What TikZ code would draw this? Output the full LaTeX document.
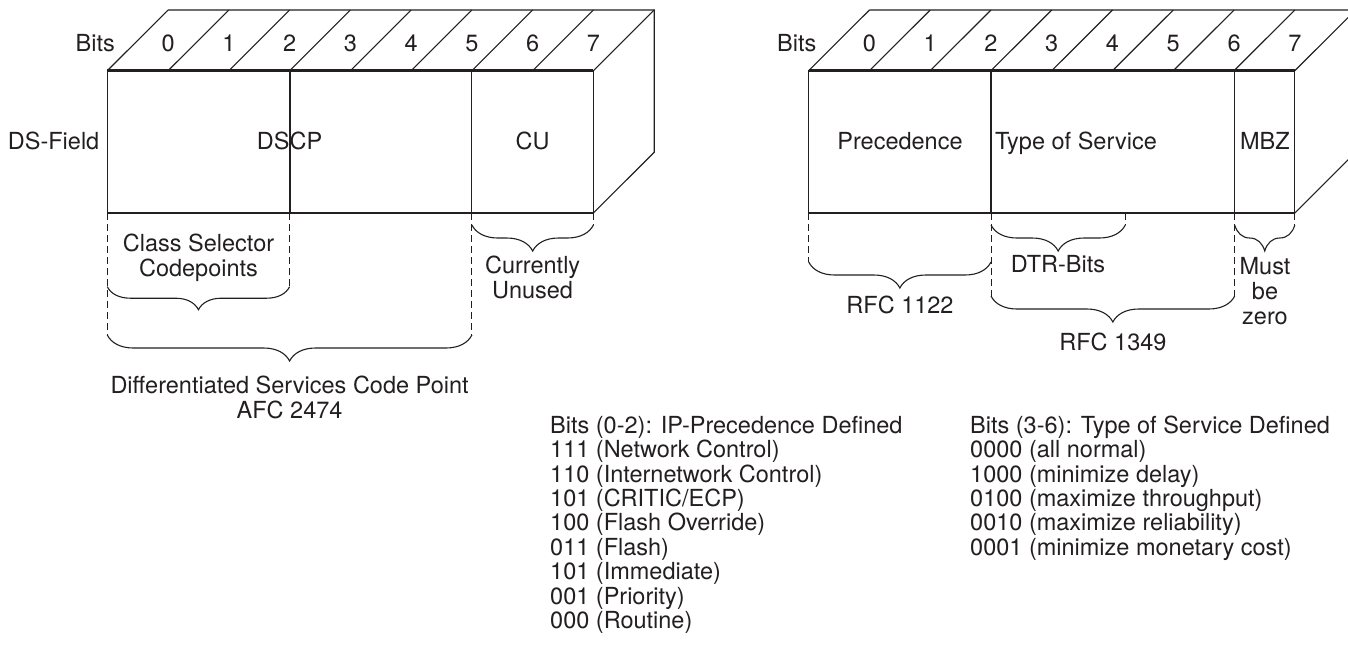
\documentclass[tikz,border=0pt]{standalone}
\usepackage{fontspec}
\setmainfont{TeX Gyre Heros}
\usetikzlibrary{decorations.pathreplacing}

\definecolor{ink}{HTML}{231F20}

\tikzset{
  lbl/.style={font=\fontsize{23.5}{25}\selectfont, text=ink, inner sep=0pt},
  boxline/.style={line width=1.1pt, draw=ink},
  topedge/.style={line width=2.6pt, draw=ink},
  dashline/.style={line width=1pt, draw=ink, dash pattern=on 7pt off 4pt},
  curly/.style={decorate, decoration={brace, mirror, amplitude=#1}, line width=1.1pt, draw=ink},
  curly/.default=26pt
}

\newcommand{\bitbox}[2]{%
  \begin{scope}[shift={(#2,0)}]
    \draw[boxline] (0,70.7) rectangle (486.1,213);
    \draw[boxline] (60.76,10) -- (546.9,10) -- (546.9,152.3) -- (486.1,213);
    \foreach \k in {0,...,8}
      \draw[boxline] (\k*60.76,70.7) -- (\k*60.76+60.76,10);
    \foreach \k in {0,...,7}
      \node[lbl, anchor=base] (#1bit\k) at (\k*60.76+60.76,51) {\k};
    \draw[topedge] (0,70.7) -- (486.1,70.7);
    \node[lbl, anchor=base] (#1bits) at (-12,51) {Bits};
  \end{scope}}

\begin{document}
\begin{tikzpicture}[x=1pt,y=-1pt]
\useasboundingbox (0,0) rectangle (1348,649);

% DS field
\bitbox{ds}{107.3}
\draw[line width=1.8pt, draw=ink] (289.6,70.7) -- (289.6,213);
\draw[boxline] (471.9,70.7) -- (471.9,213);
\node[lbl, anchor=base east] (dsfield) at (99.5,149.3) {DS-Field};
\node[lbl, anchor=base] (dscp) at (289.6,149.3) {DSCP};
\node[lbl, anchor=base] (cu) at (532.6,149.3) {CU};

\draw[dashline] (107.3,213) -- (107.3,335);
\draw[dashline] (289.6,213) -- (289.6,286.7);
\draw[dashline] (471.9,213) -- (471.9,335);
\draw[dashline] (593.4,213) -- (593.4,225);

\draw[curly=23pt] (107.3,286.7) -- (289.6,286.7);
\draw[curly] (471.9,225) -- (593.4,225);
\draw[curly] (107.3,335) -- (471.9,335);

\node[lbl, align=center] (csc) at (198.5,258) {Class Selector\\Codepoints};
\node[lbl, align=center] (unused) at (532.6,277.5) {Currently\\Unused};
\node[lbl, align=center] (dscpname) at (289.6,397) {Differentiated Services Code Point\\AFC 2474};

% ToS byte
\bitbox{tos}{808.7}
\draw[boxline] (991,70.7) -- (991,213);
\draw[boxline] (1234.7,70.7) -- (1234.7,213);
\node[lbl, anchor=base] (prec) at (900,149.3) {Precedence};
\node[lbl, anchor=base west] (tos) at (995,149.3) {Type of Service};
\node[lbl, anchor=base] (mbz) at (1264.8,149.3) {MBZ};

\draw[dashline] (808.7,213) -- (808.7,262);
\draw[dashline] (991,213) -- (991,296);
\draw[dashline] (1125.3,213) -- (1125.3,225);
\draw[dashline] (1234.7,213) -- (1234.7,296);
\draw[dashline] (1294.8,213) -- (1294.8,225);

\draw[curly] (808.7,262) -- (991,262);
\draw[curly] (991,225) -- (1125.3,225);
\draw[curly] (1234.7,225) -- (1294.8,225);
\draw[curly] (991,296) -- (1234.7,296);

\node[lbl, anchor=base] (dtr) at (1058,272) {DTR-Bits};
\node[lbl, anchor=base] (rfc1122) at (900,313) {RFC 1122};
\node[lbl, anchor=base] (rfc1349) at (1112.9,350) {RFC 1349};
\node[lbl, align=center] (mustzero) at (1265,291.5) {Must\\be\\zero};

% lists
\foreach \txt [count=\i from 0] in {Bits (0-2): IP-Precedence Defined, 111 (Network Control),
    110 (Internetwork Control), 101 (CRITIC/ECP), 100 (Flash Override), 011 (Flash),
    101 (Immediate), 001 (Priority), 000 (Routine)}
  \node[lbl, anchor=base west] (ipprec\i) at (550,433.3+24.4*\i) {\txt};
\foreach \txt [count=\i from 0] in {Bits (3-6): Type of Service Defined, 0000 (all normal),
    1000 (minimize delay), 0100 (maximize throughput), 0010 (maximize reliability),
    0001 (minimize monetary cost)}
  \node[lbl, anchor=base west] (tosdef\i) at (970,433.3+24.4*\i) {\txt};
\end{tikzpicture}
\end{document}
